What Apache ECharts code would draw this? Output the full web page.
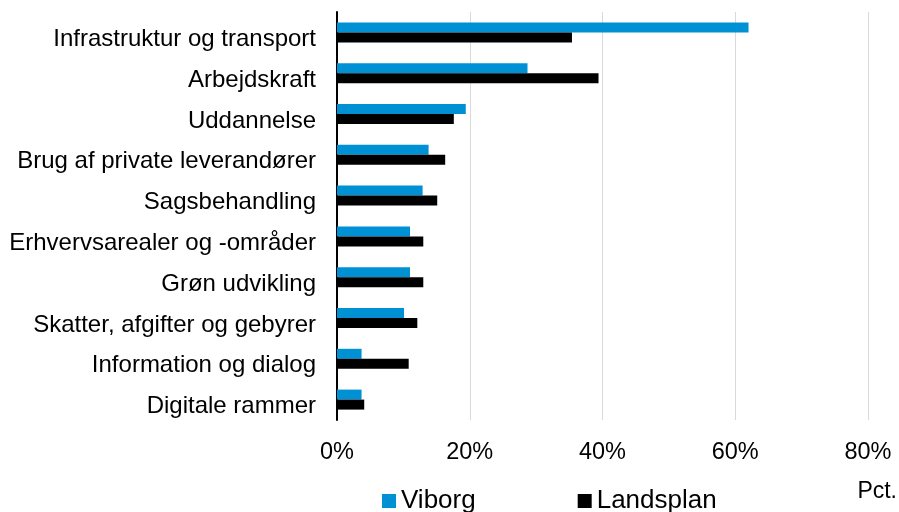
<!DOCTYPE html>
<html>
<head>
<meta charset="utf-8">
<script src="https://cdn.jsdelivr.net/npm/echarts@6/dist/echarts.min.js"></script>
<style>
  html, body { margin: 0; padding: 0; background: #fff; }
  #main { width: 899px; height: 512px; }
</style>
</head>
<body>
<div id="main"></div>
<script>
// categories, top to bottom
var categories = ['Infrastruktur og transport', 'Arbejdskraft', 'Uddannelse', 'Brug af private leverandører',
  'Sagsbehandling', 'Erhvervsarealer og -områder', 'Grøn udvikling', 'Skatter, afgifter og gebyrer',
  'Information og dialog', 'Digitale rammer'];
var viborg = [62.0, 28.7, 19.4, 13.8, 12.9, 11.0, 11.0, 10.1, 3.7, 3.7];
var landsplan = [35.4, 39.4, 17.6, 16.3, 15.1, 13.0, 13.0, 12.1, 10.8, 4.1];
var xTicks = [0, 20, 40, 60, 80];

var font = 'Liberation Sans, Arial, sans-serif';
var chart = echarts.init(document.getElementById('main'));

var option = {
  animation: false,
  textStyle: { fontFamily: font },
  grid: { left: 337, right: 31, top: 12, bottom: 92 },
  legend: {
    data: ['Viborg', 'Landsplan'],
    left: 382,
    top: 488,
    padding: 0,
    icon: 'rect',
    itemWidth: 14,
    itemHeight: 14,
    itemGap: 102,
    textStyle: { fontSize: 26, color: '#000', fontFamily: font }
  },
  graphic: [{
    type: 'text',
    right: 2,
    top: 480,
    style: { text: 'Pct.', fontSize: 23, fill: '#000', fontFamily: font }
  }],
  xAxis: {
    type: 'value',
    min: xTicks[0],
    max: xTicks[xTicks.length - 1],
    interval: 20,
    axisLine: { show: false },
    axisTick: { show: false },
    splitLine: { lineStyle: { color: '#d9d9d9', width: 1 } },
    axisLabel: { formatter: '{value}%', fontSize: 23.5, color: '#000', margin: 21, fontFamily: font }
  },
  yAxis: {
    type: 'category',
    data: categories,
    inverse: true,
    axisLine: { lineStyle: { color: '#000', width: 2 } },
    axisTick: { show: false },
    axisLabel: {
      fontSize: 24, color: '#000', margin: 21, fontFamily: font,
      verticalAlign: 'top', lineHeight: 14
    }
  },
  series: [{
    name: 'Viborg',
    type: 'bar',
    data: viborg,
    barWidth: 10,
    barGap: '0%',
    itemStyle: { color: '#0091d5' }
  }, {
    name: 'Landsplan',
    type: 'bar',
    data: landsplan,
    barWidth: 10,
    barGap: '0%',
    itemStyle: { color: '#000000' }
  }]
};

chart.setOption(option);
</script>
</body>
</html>
